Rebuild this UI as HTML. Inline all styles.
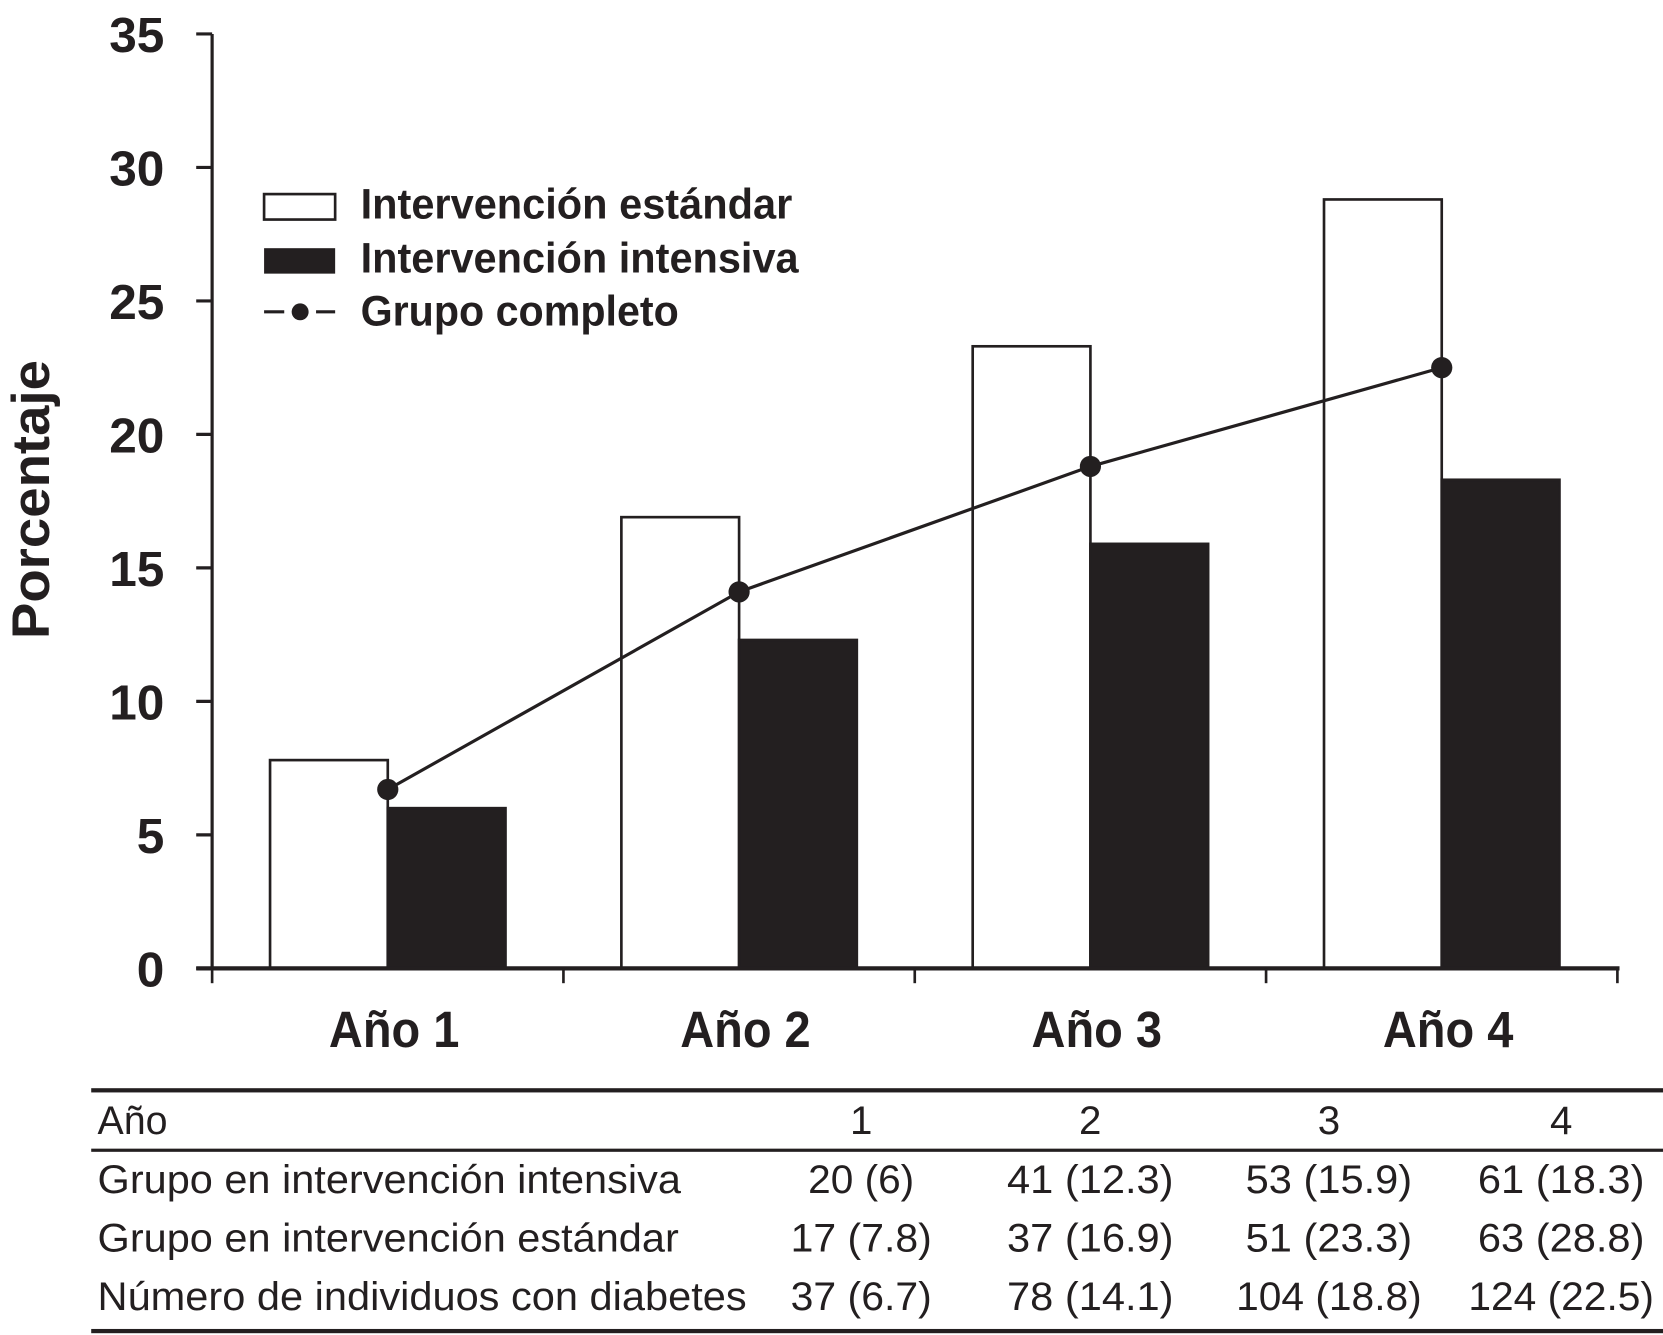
<!DOCTYPE html>
<html><head><meta charset="utf-8"><style>
html,body{margin:0;padding:0;background:#fff}
svg{display:block}
text{font-family:"Liberation Sans",Arial,sans-serif;fill:#231f20}
</style></head><body>
<svg width="1663" height="1335" viewBox="0 0 1568 1258.7" preserveAspectRatio="none" xmlns="http://www.w3.org/2000/svg">
<g id="plot"></g>
<g id="legend">
  <rect x="249" y="183" width="67" height="24" fill="#fff" stroke="#231f20" stroke-width="2.5"/>
  <text x="340" y="206" font-size="40" font-weight="bold" textLength="407" lengthAdjust="spacingAndGlyphs">Intervención estándar</text>
  <rect x="249" y="234" width="67" height="24" fill="#231f20"/>
  <text x="340" y="257" font-size="40" font-weight="bold" textLength="413" lengthAdjust="spacingAndGlyphs">Intervención intensiva</text>
  <line x1="249" y1="294" x2="268" y2="294" stroke="#231f20" stroke-width="3"/>
  <line x1="298" y1="294" x2="316" y2="294" stroke="#231f20" stroke-width="3"/>
  <circle cx="283" cy="294" r="8" fill="#231f20"/>
  <text x="340" y="307" font-size="40" font-weight="bold" textLength="300" lengthAdjust="spacingAndGlyphs">Grupo completo</text>
</g>
<text transform="translate(46,471) rotate(-90)" text-anchor="middle" font-size="50" font-weight="bold" textLength="263" lengthAdjust="spacingAndGlyphs">Porcentaje</text>
<g font-size="38">
  <rect x="86" y="1026" width="1482" height="4" fill="#231f20"/>
  <rect x="86" y="1083" width="1482" height="3" fill="#231f20"/>
  <rect x="86" y="1253" width="1482" height="4" fill="#231f20"/>
  <text x="92" y="1069" textLength="66" lengthAdjust="spacingAndGlyphs">Año</text>
  <text x="92" y="1125" textLength="550" lengthAdjust="spacingAndGlyphs">Grupo en intervención intensiva</text>
  <text x="92" y="1180" textLength="548" lengthAdjust="spacingAndGlyphs">Grupo en intervención estándar</text>
  <text x="92" y="1235" textLength="612" lengthAdjust="spacingAndGlyphs">Número de individuos con diabetes</text>
  <g text-anchor="middle">
    <text x="812" y="1069">1</text>
    <text x="1028" y="1069">2</text>
    <text x="1253" y="1069">3</text>
    <text x="1472" y="1069">4</text>
    <text x="812" y="1125" textLength="100" lengthAdjust="spacingAndGlyphs">20 (6)</text>
    <text x="1028" y="1125" textLength="157" lengthAdjust="spacingAndGlyphs">41 (12.3)</text>
    <text x="1253" y="1125" textLength="157" lengthAdjust="spacingAndGlyphs">53 (15.9)</text>
    <text x="1472" y="1125" textLength="157" lengthAdjust="spacingAndGlyphs">61 (18.3)</text>
    <text x="812" y="1180" textLength="133" lengthAdjust="spacingAndGlyphs">17 (7.8)</text>
    <text x="1028" y="1180" textLength="157" lengthAdjust="spacingAndGlyphs">37 (16.9)</text>
    <text x="1253" y="1180" textLength="157" lengthAdjust="spacingAndGlyphs">51 (23.3)</text>
    <text x="1472" y="1180" textLength="157" lengthAdjust="spacingAndGlyphs">63 (28.8)</text>
    <text x="812" y="1235" textLength="133" lengthAdjust="spacingAndGlyphs">37 (6.7)</text>
    <text x="1028" y="1235" textLength="157" lengthAdjust="spacingAndGlyphs">78 (14.1)</text>
    <text x="1253" y="1235" textLength="175" lengthAdjust="spacingAndGlyphs">104 (18.8)</text>
    <text x="1472" y="1235" textLength="175" lengthAdjust="spacingAndGlyphs">124 (22.5)</text>
  </g>
</g>
</svg>
<script>
const categories = ["Año 1","Año 2","Año 3","Año 4"];
const standardValues = [7.8, 16.9, 23.3, 28.8];
const intensiveValues = [6, 12.3, 15.9, 18.3];
const groupValues = [6.7, 14.1, 18.8, 22.5];
const yTicks = [0,5,10,15,20,25,30,35];

const NS = "http://www.w3.org/2000/svg";
const plot = document.getElementById('plot');
const X0 = 200, X1 = 1525, Y0 = 913, YTOP = 32, YMAX = 35;
const band = (X1 - X0) / categories.length;
const barW = 111;
function y(v){ return Y0 - v / YMAX * (Y0 - YTOP); }
function xc(i){ return X0 + band * i + band / 2; }
function mk(tag, attrs){ const e = document.createElementNS(NS, tag); for (const k in attrs) e.setAttribute(k, attrs[k]); plot.appendChild(e); return e; }

categories.forEach((c, i) => {
  const cx = xc(i);
  const w = mk('rect', {x: cx - barW, y: y(standardValues[i]), width: barW, height: Y0 - y(standardValues[i]), fill: '#fff', stroke: '#231f20', 'stroke-width': 2.5});
  
  
  const b = mk('rect', {x: cx, y: y(intensiveValues[i]), width: barW, height: Y0 - y(intensiveValues[i]), fill: '#231f20', stroke: '#231f20', 'stroke-width': 2.5});
  
  
  const t = mk('text', {x: cx + 6, y: 987, 'text-anchor': 'middle', 'font-size': 48, 'font-weight': 'bold', textLength: 123, lengthAdjust: 'spacingAndGlyphs'});
  t.textContent = c;
  
  
});

const pts = groupValues.map((v, i) => xc(i) + ',' + y(v)).join(' ');
const line = mk('polyline', {points: pts, fill: 'none', stroke: '#231f20', 'stroke-width': 3});


groupValues.forEach((v, i) => {
  const p = mk('circle', {cx: xc(i), cy: y(v), r: 10, fill: '#231f20'});
  
  
});

const ya = mk('line', {x1: X0, y1: YTOP, x2: X0, y2: Y0, stroke: '#231f20', 'stroke-width': 3});


const xa = mk('line', {x1: 185, y1: Y0, x2: X1 + 2, y2: Y0, stroke: '#231f20', 'stroke-width': 4});


for (let i = 0; i <= categories.length; i++) {
  const tk = mk('line', {x1: X0 + band * i, y1: Y0, x2: X0 + band * i, y2: Y0 + 14, stroke: '#231f20', 'stroke-width': 2.5});
  
  
}
yTicks.forEach(v => {
  const tk = mk('line', {x1: 185, y1: y(v), x2: X0, y2: y(v), stroke: '#231f20', 'stroke-width': 3});
  
  
  const s = String(v);
  const t = mk('text', {x: 155, y: y(v) + 17, 'text-anchor': 'end', 'font-size': 46, 'font-weight': 'bold', textLength: s.length * 26, lengthAdjust: 'spacingAndGlyphs'});
  t.textContent = s;
  
  
});
</script>
</body></html>
